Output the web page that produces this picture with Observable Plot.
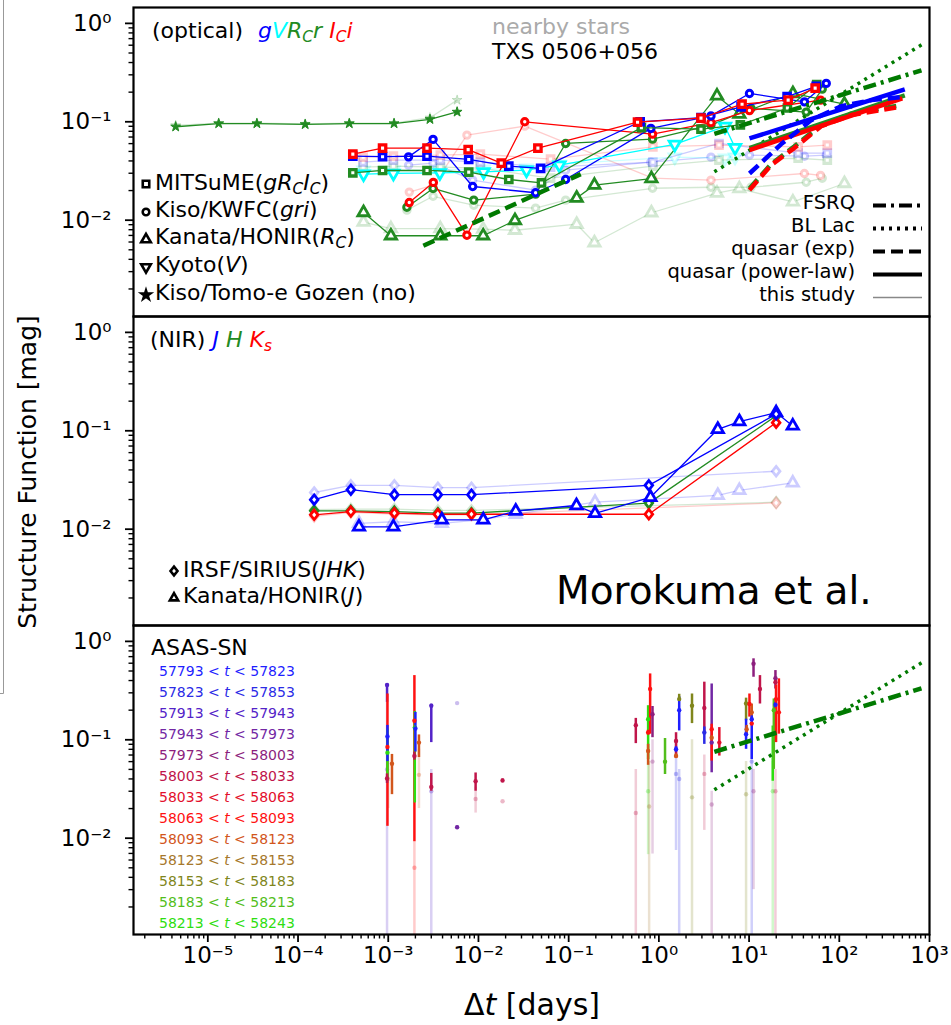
<!DOCTYPE html>
<html><head><meta charset="utf-8">
<script src="https://cdn.jsdelivr.net/npm/d3@7"></script>
<script src="https://cdn.jsdelivr.net/npm/@observablehq/plot@0.6"></script>
<style>
html,body{margin:0;padding:0;background:#fff;}
#wrap{position:relative;width:951px;height:1025px;overflow:hidden;font-family:"DejaVu Sans",sans-serif;color:#000;}
.lbl{position:absolute;white-space:nowrap;z-index:5;}
.sub{font-size:0.7em;position:relative;top:0.28em;}
svg.leg{position:absolute;left:0;top:0;z-index:4;}
</style></head><body><div id="wrap"></div>
<script>
// ---------- tick values ----------
const xMajorTicks = [1e-5, 1e-4, 1e-3, 1e-2, 1e-1, 1, 10, 100, 1000];
const yMajorTicks = [1e-2, 1e-1, 1];

// ---------- optical panel: TXS 0506+056 (this study) ----------
const mitsumeG_dt = [4.05e-4, 8.65e-4, 2.69e-3, 7.8e-3, 0.0217, 0.0489, 0.62, 2.93, 8.15, 26.4, 55.5];
const mitsumeG_sf = [0.0447, 0.0442, 0.0447, 0.0414, 0.0354, 0.0336, 0.100, 0.110, 0.142, 0.180, 0.229];
const mitsumeR_dt = [4.05e-4, 8.65e-4, 2.69e-3, 7.8e-3, 0.0217, 0.050, 0.64, 2.93, 8.0, 26.6, 56.2];
const mitsumeR_sf = [0.0303, 0.0320, 0.0320, 0.0308, 0.0259, 0.0239, 0.0872, 0.0841, 0.0931, 0.138, 0.239];
const mitsumeI_dt = [4.05e-4, 8.65e-4, 2.69e-3, 7.69e-3, 0.0179, 0.0456, 0.58, 2.93, 8.36, 27.1, 54];
const mitsumeI_sf = [0.0469, 0.0540, 0.0540, 0.0521, 0.0380, 0.0540, 0.099, 0.109, 0.151, 0.166, 0.220];
const kyotoV_dt = [5.32e-4, 1.14e-3, 3.73e-3, 0.0114, 0.0341, 0.079, 1.50, 5.41, 6.99];
const kyotoV_sf = [0.0294, 0.0299, 0.0303, 0.0310, 0.0322, 0.0362, 0.059, 0.0897, 0.0546];
const kwfcG_dt = [1.68e-3, 3.14e-3, 8.63e-3, 0.043, 0.0926, 0.815, 3.78, 10.1, 41.1, 71.7];
const kwfcG_sf = [0.0440, 0.0662, 0.0220, 0.0190, 0.0259, 0.0856, 0.1147, 0.194, 0.1595, 0.2455];
const kwfcR_dt = [1.61e-3, 3.14e-3, 8.87e-3, 0.043, 0.0926, 0.851, 3.78, 10.5, 43, 64.7];
const kwfcR_sf = [0.01355, 0.0210, 0.0160, 0.0184, 0.0602, 0.0666, 0.0925, 0.1367, 0.1254, 0.215];
const kwfcI_dt = [1.71e-3, 3.16e-3, 7.45e-3, 0.0326, 0.851, 3.78, 10.1, 62];
const kwfcI_sf = [0.0151, 0.0242, 0.00704, 0.100, 0.0749, 0.098, 0.130, 0.166];
const kanataR_dt = [5.32e-4, 1.07e-3, 3.78e-3, 0.01128, 0.0254, 0.1227, 0.193, 0.826, 4.41, 7.8, 30.6, 114];
const kanataR_sf = [0.01198, 0.00695, 0.00695, 0.00695, 0.00993, 0.0168, 0.0227, 0.0265, 0.183, 0.1197, 0.194, 0.151];
const tomoe_dt = [4.4e-6, 1.32e-5, 3.5e-5, 1.2e-4, 3.7e-4, 1.16e-3, 2.9e-3, 5.8e-3];
const tomoe_sf = [0.089, 0.096, 0.096, 0.094, 0.096, 0.096, 0.106, 0.126];

// ---------- optical panel: nearby stars ----------
const nbMitsume_dt = [5.27e-4, 1.14e-3, 3.78e-3, 0.0105, 0.063, 0.858, 4.64, 35, 73.6];
const nbMitsumeG_sf = [0.0389, 0.0407, 0.0407, 0.0389, 0.0346, 0.0389, 0.0602, 0.048, 0.048];
const nbMitsumeR_sf = [0.0346, 0.0354, 0.0346, 0.0338, 0.0268, 0.0354, 0.0407, 0.0426, 0.0407];
const nbMitsumeI_sf = [0.0437, 0.0447, 0.0458, 0.0469, 0.0417, 0.0557, 0.058, 0.0557, 0.058];
const nbKyotoV_sf = [0.0322, 0.0322, 0.0322, 0.0330, 0.0337, 0.0371, 0.0437, 0.0427, 0.0437];
const nbKwfcG_sf = [0.0362, 0.0380, 0.0255, 0.0202, 0.0322, 0.0389, 0.0437, 0.0458, 0.0447, 0.0458];
const nbKwfcR_sf = [0.01264, 0.0175, 0.0142, 0.01324, 0.0160, 0.0211, 0.0216, 0.0216, 0.0243, 0.0267];
const nbKwfcI_dt = [1.71e-3, 3.16e-3, 7.45e-3, 0.0326, 0.851, 3.78, 41, 62];
const nbKwfcI_sf = [0.0193, 0.0227, 0.0731, 0.0903, 0.0267, 0.0255, 0.0298, 0.0285];
const nbKanataR_sf = [0.00954, 0.0082, 0.0082, 0.0081, 0.0079, 0.0091, 0.0059, 0.0119, 0.0188, 0.0209, 0.01535, 0.0236];
const nbTomoe_sf = [0.092, 0.097, 0.097, 0.095, 0.097, 0.097, 0.110, 0.166];

// ---------- model lines ----------
const fsrq_dt = [4.12, 815],  fsrq_sf = [0.0755, 0.333];
const bllac_dt = [4.12, 815], bllac_sf = [0.031, 0.605];
const expShort_dt = [2.45e-3, 0.136], expShort_sf = [0.0055, 0.0294];
const plG_dt = [10.1, 532], plG_sf = [0.0677, 0.213];
const plR_dt = [10.1, 532], plR_sf = [0.054, 0.185];
const plI_dt = [10.1, 500], plI_sf = [0.0515, 0.1727];
const expG_dt = [10.1, 22.7, 48.9, 105, 227, 489], expG_sf = [0.0298, 0.0593, 0.104, 0.144, 0.166, 0.178];
const expR_dt = [10.1, 17.5, 31.6, 63, 136, 489], expR_sf = [0.021, 0.037, 0.056, 0.093, 0.121, 0.148];
const expI_dt = [10.1, 17.5, 31.6, 63, 136, 453], expI_sf = [0.0202, 0.0362, 0.054, 0.0903, 0.117, 0.141];

// ---------- NIR panel ----------
const irsf_dt = [1.51e-4, 3.85e-4, 1.17e-3, 3.55e-3, 8.36e-3, 0.774, 19.95];
const irsfJ_sf = [0.01995, 0.0252, 0.0224, 0.0224, 0.0224, 0.0279, 0.1475];
const irsfH_sf = [0.01538, 0.01538, 0.0151, 0.01455, 0.01455, 0.0184, 0.1417];
const irsfK_sf = [0.0140, 0.0151, 0.01455, 0.01419, 0.01419, 0.01419, 0.121];
const honirJ_dt = [4.74e-4, 1.14e-3, 3.93e-3, 0.0113, 0.0259, 0.122, 0.196, 0.807, 4.5, 7.8, 19.95, 30.5];
const honirJ_sf = [0.01055, 0.01055, 0.01245, 0.01245, 0.0153, 0.0174, 0.01445, 0.0211, 0.1035, 0.124, 0.153, 0.112];
const nbIrsf_dt = [1.51e-4, 3.85e-4, 1.17e-3, 3.55e-3, 8.36e-3, 19.95];
const nbIrsfJ_sf = [0.0236, 0.0279, 0.0279, 0.0264, 0.0264, 0.0388];
const nbIrsfH_sf = [0.0158, 0.0160, 0.0160, 0.0155, 0.0155, 0.0188];
const nbIrsfK_sf = [0.0135, 0.0148, 0.0142, 0.0140, 0.0140, 0.0185];
const nbHonirJ_dt = [4.74e-4, 1.14e-3, 3.93e-3, 0.0113, 0.0259, 0.196, 4.5, 7.8, 30.5];
const nbHonirJ_sf = [0.01148, 0.0119, 0.01148, 0.0125, 0.01419, 0.01884, 0.0221, 0.0248, 0.0295];

// ---------- ASAS-SN panel ----------
const asasBinLabels = ["57793","57823","57913","57943","57973","58003","58033","58063","58093","58123","58153","58183","58213"];
const asasBinEnds   = ["57823","57853","57943","57973","58003","58033","58063","58093","58123","58153","58183","58213","58243"];
const asasColors = ["#1f1fff","#2b2be6","#5323c8","#7227a4","#8d1f7e","#c0154a","#e3102c","#ff1212","#d2561c","#a6782c","#80861c","#52be1c","#2ede10"];
const asasDt  = [9.7e-4,9.8e-4,9.8e-4,9.8e-4,9.7e-4,1.1e-3,1.95e-3,1.97e-3,2.0e-3,1.95e-3,2.19e-3,3.0e-3,3.0e-3,5.8e-3,9.3e-3,0.0185,0.555,0.76,0.76,0.76,0.8,0.85,1.17,1.55,1.55,1.55,1.68,1.68,2.33,3.19,3.19,3.85,3.85,3.85,4.68,9.26,9.26,9.4,10.1,10.7,10.7,10.7,11.2,13.2,18.3,18.8,19.6,19.6,19.6,19.9,21.4];
const asasSF  = [0.36,0.0844,0.074,0.108,0.0404,0.057,0.156,0.133,0.13,0.0683,0.0936,0.222,0.0332,0.0129,0.0379,0.0385,0.1406,0.162,0.1185,0.0768,0.328,0.182,0.0598,0.0972,0.08,0.0683,0.2,0.259,0.222,0.21,0.1185,0.0936,0.128,0.105,0.0936,0.234,0.114,0.128,0.231,0.19,0.162,0.146,0.592,0.328,0.114,0.20,0.422,0.385,0.227,0.259,0.19];
const asasLo  = [0.24,0.0132,0.041,0.06,0.036,0.0277,0.0092,0.0228,0.075,0.062,0.066,0.0936,0.030,0.0125,0.030,0.037,0.0914,0.063,0.112,0.055,0.114,0.105,0.0444,0.068,0.075,0.065,0.123,0.245,0.146,0.1185,0.0898,0.0462,0.0607,0.10,0.0683,0.156,0.08,0.11,0.17,0.156,0.063,0.14,0.432,0.231,0.0379,0.05,0.328,0.37,0.21,0.0936,0.114];
const asasHi  = [0.37,0.292,0.128,0.14,0.045,0.071,0.449,0.194,0.19,0.075,0.112,0.23,0.0455,0.0133,0.046,0.040,0.165,0.222,0.125,0.09,0.467,0.218,0.103,0.118,0.085,0.072,0.274,0.29,0.292,0.385,0.135,0.369,0.144,0.11,0.133,0.265,0.162,0.14,0.292,0.231,0.175,0.15,0.665,0.449,0.138,0.26,0.505,0.40,0.24,0.36,0.416];
const asasBin = [2,7,12,0,5,8,7,12,0,5,8,2,5,3,5,5,5,12,7,8,7,4,11,5,0,8,0,10,10,5,1,3,7,8,6,10,0,8,7,8,0,7,4,5,12,11,4,5,0,7,7];
const nbAsasDt  = [9.7e-4,1.0e-3,1.95e-3,2.19e-3,3.0e-3,5.8e-3,9.3e-3,0.0185,0.555,0.76,0.78,0.85,1.55,1.68,2.33,3.19,3.85,9.26,10.7,11.2,19.6,18.3];
const nbAsasSF  = [0.05,0.04,0.005,0.044,0.03,0.236,0.025,0.0237,0.018,0.03,0.021,0.06,0.045,0.04,0.026,0.045,0.022,0.028,0.06,0.03,0.03,0.03];
const nbAsasLo  = [1e-4,0.02,1e-4,0.02,1e-4,0.236,0.018,0.0237,1e-4,0.0068,1e-4,0.0069,0.0075,1e-4,1e-4,0.012,1e-4,1e-4,1e-4,0.003,1e-4,1e-4];
const nbAsasHi  = [0.24,0.06,0.0092,0.08,0.05,0.236,0.033,0.0237,0.05,0.09,0.06,0.1,0.1,0.05,0.1,0.07,0.03,0.06,0.1,0.05,0.05,0.06];
const nbAsasBin = [2,9,7,8,2,2,5,5,5,12,9,4,1,1,10,5,4,10,1,4,5,12];

// ---------- colours ----------
const cG = "#0000ff", cV = "#00ffff", cR = "#228b22", cI = "#ff0000", cModel = "#007a00";

// ---------- helpers ----------
const wrap = document.getElementById("wrap");
const W = 951, ML = 133, MR = 22;
const xDomain = [1.5e-6, 1000], yDomain = [1.05e-3, 1.45];
const supMap = {"-":"⁻","0":"⁰","1":"¹","2":"²","3":"³","4":"⁴","5":"⁵","6":"⁶","7":"⁷","8":"⁸","9":"⁹"};
const fmt = v => "10" + String(Math.round(Math.log10(v))).replace(/./g, c => supMap[c]);
const xMinorTicks = [], yMinorTicks = [];
for (let e = -6; e <= 2; e++) for (let m = 2; m <= 9; m++) { const v = m * Math.pow(10, e); if (v > xDomain[0] && v < xDomain[1]) xMinorTicks.push(v); }
for (let e = -3; e <= 0; e++) for (let m = 2; m <= 9; m++) { const v = m * Math.pow(10, e); if (v > yDomain[0] && v < yDomain[1]) yMinorTicks.push(v); }

const triDown = {draw(ctx, size){ const y = Math.sqrt(size / (Math.sqrt(3) * 3)); ctx.moveTo(0, 2*y); ctx.lineTo(-Math.sqrt(3)*y, -y); ctx.lineTo(Math.sqrt(3)*y, -y); ctx.closePath(); }};
const diamondSym = {draw(ctx, size){ const h = Math.sqrt(size) * 0.75, w = h * 0.8; ctx.moveTo(0, -h); ctx.lineTo(w, 0); ctx.lineTo(0, h); ctx.lineTo(-w, 0); ctx.closePath(); }};

const rows = (dt, sf) => dt.map((d, i) => ({dt: d, sf: sf[i]}));
function series(dt, sf, o) {
  const data = rows(dt, sf), op = o.opacity ?? 1;
  return [
    Plot.line(data, {x: "dt", y: "sf", stroke: o.color, strokeWidth: o.lw ?? 1.3, strokeOpacity: op}),
    Plot.dot(data, {x: "dt", y: "sf", symbol: o.symbol, r: o.r ?? 3.6, stroke: o.color, strokeWidth: o.sw ?? 3.3,
      fill: o.fill ?? "white", strokeOpacity: op, fillOpacity: (o.fill && o.fill !== "white") ? op : 1})
  ];
}
function model(dt, sf, color, dash, w = 4.5) {
  return Plot.line(rows(dt, sf), {x: "dt", y: "sf", stroke: color, strokeWidth: w, strokeDasharray: dash, strokeLinecap: "butt"});
}
const yAxes = () => [
  Plot.axisY(yMinorTicks, {anchor: "left", tickSize: 4.5, tickFormat: () => "", strokeWidth: 1.4, label: null}),
  Plot.axisY(yMajorTicks, {anchor: "left", tickSize: 8, tickPadding: 14, tickFormat: fmt, fontSize: 23, strokeWidth: 1.8, label: null})
];
function panel(top, height, mt, mb, marks, withX) {
  const p = Plot.plot({
    width: W, height, marginTop: mt, marginBottom: mb, marginLeft: ML, marginRight: MR,
    x: withX ? {type: "log", domain: xDomain, label: null} : {type: "log", domain: xDomain, label: null, axis: null},
    y: {type: "log", domain: yDomain, label: null},
    color: {type: "identity"},
    style: {fontFamily: "DejaVu Sans", fontSize: "23px", background: "transparent", overflow: "visible", color: "#000"},
    marks
  });
  p.style.position = "absolute"; p.style.left = "0px"; p.style.top = top + "px";
  wrap.appendChild(p);
}

// ---------- panel 1: optical ----------
const faded = 0.2;
const triOpt = {r: 4.2, sw: 2.8}, circOpt = {r: 3.2, sw: 3.0}, sqOpt = {r: 3.6, sw: 3.3}, starOpt = {r: 3.1, sw: 1};
panel(0, 317, 7, 1, [
  ...series(kanataR_dt, nbKanataR_sf, {color: cR, symbol: "triangle", ...triOpt, opacity: faded}),
  ...series(kwfcR_dt, nbKwfcR_sf, {color: cR, symbol: "circle", ...circOpt, opacity: faded}),
  ...series(nbKwfcI_dt, nbKwfcI_sf, {color: cI, symbol: "circle", ...circOpt, opacity: faded}),
  ...series(kwfcG_dt, nbKwfcG_sf, {color: cG, symbol: "circle", ...circOpt, opacity: faded}),
  ...series(kyotoV_dt, nbKyotoV_sf, {color: cV, symbol: triDown, ...triOpt, opacity: faded}),
  ...series(nbMitsume_dt, nbMitsumeR_sf, {color: cR, symbol: "square", ...sqOpt, opacity: faded}),
  ...series(nbMitsume_dt, nbMitsumeG_sf, {color: cG, symbol: "square", ...sqOpt, opacity: faded}),
  ...series(nbMitsume_dt, nbMitsumeI_sf, {color: cI, symbol: "square", ...sqOpt, opacity: faded}),
  ...series(tomoe_dt, nbTomoe_sf, {color: cR, symbol: "star", ...starOpt, fill: cR, opacity: faded}),
  ...series(tomoe_dt, tomoe_sf, {color: cR, symbol: "star", ...starOpt, fill: cR}),
  ...series(kanataR_dt, kanataR_sf, {color: cR, symbol: "triangle", ...triOpt}),
  ...series(kwfcR_dt, kwfcR_sf, {color: cR, symbol: "circle", ...circOpt}),
  ...series(kwfcI_dt, kwfcI_sf, {color: cI, symbol: "circle", ...circOpt}),
  ...series(kwfcG_dt, kwfcG_sf, {color: cG, symbol: "circle", ...circOpt}),
  ...series(kyotoV_dt, kyotoV_sf, {color: cV, symbol: triDown, ...triOpt}),
  ...series(mitsumeR_dt, mitsumeR_sf, {color: cR, symbol: "square", ...sqOpt}),
  ...series(mitsumeG_dt, mitsumeG_sf, {color: cG, symbol: "square", ...sqOpt}),
  ...series(mitsumeI_dt, mitsumeI_sf, {color: cI, symbol: "square", ...sqOpt}),
  model(expShort_dt, expShort_sf, cModel, "12,6"),
  model(bllac_dt, bllac_sf, cModel, "3,5", 3.5),
  model(fsrq_dt, fsrq_sf, cModel, "13,5,3,5"),
  model(expR_dt, expR_sf, cR, "12,6"),
  model(plR_dt, plR_sf, cR, null),
  model(expI_dt, expI_sf, cI, "12,6"),
  model(plI_dt, plI_sf, cI, null),
  model(expG_dt, expG_sf, cG, "12,6"),
  model(plG_dt, plG_sf, cG, null),
  ...yAxes(),
  Plot.frame({stroke: "black", strokeWidth: 2.2})
]);

// ---------- panel 2: NIR ----------
const diaOpt = {r: 3.6, sw: 2.8}, triNir = {r: 4.2, sw: 2.8};
panel(314, 313, 2, 2, [
  ...series(nbHonirJ_dt, nbHonirJ_sf, {color: cG, symbol: "triangle", ...triNir, opacity: faded}),
  ...series(nbIrsf_dt, nbIrsfH_sf, {color: cR, symbol: diamondSym, ...diaOpt, opacity: faded}),
  ...series(nbIrsf_dt, nbIrsfK_sf, {color: cI, symbol: diamondSym, ...diaOpt, opacity: faded}),
  ...series(nbIrsf_dt, nbIrsfJ_sf, {color: cG, symbol: diamondSym, ...diaOpt, opacity: faded}),
  ...series(irsf_dt, irsfH_sf, {color: cR, symbol: diamondSym, ...diaOpt}),
  ...series(irsf_dt, irsfK_sf, {color: cI, symbol: diamondSym, ...diaOpt}),
  ...series(honirJ_dt, honirJ_sf, {color: cG, symbol: "triangle", ...triNir}),
  ...series(irsf_dt, irsfJ_sf, {color: cG, symbol: diamondSym, ...diaOpt}),
  ...yAxes(),
  Plot.frame({stroke: "black", strokeWidth: 2.2})
]);

// ---------- panel 3: ASAS-SN ----------
const asas = asasDt.map((d, i) => ({dt: d, sf: asasSF[i], lo: asasLo[i], hi: asasHi[i], c: asasColors[asasBin[i]]}));
const nbAsas = nbAsasDt.map((d, i) => ({dt: d, sf: nbAsasSF[i], lo: nbAsasLo[i], hi: nbAsasHi[i], c: asasColors[nbAsasBin[i]]}));
panel(623, 402, 2, 91, [
  Plot.ruleX(nbAsas, {x: "dt", y1: "lo", y2: "hi", stroke: "c", strokeWidth: 2.5, strokeOpacity: 0.22, clip: true}),
  Plot.dot(nbAsas, {x: "dt", y: "sf", r: 2.2, fill: "c", fillOpacity: 0.3, clip: true}),
  Plot.ruleX(asas, {x: "dt", y1: "lo", y2: "hi", stroke: "c", strokeWidth: 2.5, clip: true}),
  Plot.dot(asas, {x: "dt", y: "sf", r: 2.2, fill: "c", clip: true}),
  model(bllac_dt, bllac_sf, cModel, "3,5", 3.5),
  model(fsrq_dt, fsrq_sf, cModel, "13,5,3,5"),
  ...yAxes(),
  Plot.axisX(xMinorTicks, {anchor: "bottom", tickSize: 4.5, tickFormat: () => "", strokeWidth: 1.4, label: null}),
  Plot.axisX(xMajorTicks, {anchor: "bottom", tickSize: 8, tickPadding: 4, tickFormat: fmt, fontSize: 23, strokeWidth: 1.8, label: null}),
  Plot.frame({stroke: "black", strokeWidth: 2.2})
], true);

// ---------- annotations ----------
function label(html, o) {
  const d = document.createElement("div"); d.className = "lbl"; d.innerHTML = html;
  const size = o.size || 22; d.style.fontSize = size + "px"; d.style.lineHeight = (0.9 * size) + "px";
  d.style.top = (o.cy - 0.47 * size) + "px";
  if (o.right != null) { d.style.right = (W - o.right) + "px"; d.style.textAlign = "right"; } else d.style.left = o.left + "px";
  if (o.color) d.style.color = o.color;
  wrap.appendChild(d); return d;
}
const it = (t, c) => `<i style="color:${c}">${t}</i>`;
const sub = t => `<span class="sub">${t}</span>`;

label("(optical)", {left: 152, cy: 31});
label(it("g", cG) + it("V", cV) + it("R" + sub("C") + "r", cR) + " " + it("I" + sub("C") + "i", cI), {left: 258, cy: 31});
label("nearby stars", {left: 492, cy: 27, color: "#aaaaaa"});
label("TXS 0506+056", {left: 492, cy: 52});

const optLegend = ["MITSuME(<i>gR" + sub("C") + "I" + sub("C") + "</i>)", "Kiso/KWFC(<i>gri</i>)", "Kanata/HONIR(<i>R" + sub("C") + "</i>)", "Kyoto(<i>V</i>)", "Kiso/Tomo-e Gozen (no)"];
const optLegendY = [183, 210, 237.5, 265, 293];
optLegend.forEach((t, i) => label(t, {left: 155, cy: optLegendY[i]}));

const modelLegend = ["FSRQ", "BL Lac", "quasar (exp)", "quasar (power-law)", "this study"];
const modelLegendY = [203.5, 226.5, 249.5, 272.5, 295.5];
modelLegend.forEach((t, i) => label(t, {right: 855, cy: modelLegendY[i], size: 19.5}));

label("(NIR) " + it("J", cG) + " " + it("H", cR) + " " + it("K" + sub("s"), cI), {left: 150, cy: 340});
label("IRSF/SIRIUS(<i>JHK</i>)", {left: 183, cy: 570});
label("Kanata/HONIR(<i>J</i>)", {left: 183, cy: 596});
label("Morokuma et al.", {left: 556, cy: 591, size: 39});

label("ASAS-SN", {left: 151, cy: 648});
asasBinLabels.forEach((b, i) => label(`${b} &lt; <i>t</i> &lt; ${asasBinEnds[i]}`, {left: 159, cy: 672 + i * 20.97, size: 14, color: asasColors[i]}));

// axis titles
const yt = label("Structure Function [mag]", {left: 28, cy: 472, size: 25});
yt.style.left = "28px"; yt.style.top = "472px"; yt.style.transform = "translate(-50%,-50%) rotate(-90deg)";
const xt = label("Δ<i>t</i> [days]", {left: 532, cy: 1004, size: 30});
xt.style.left = "532px"; xt.style.top = "1004px"; xt.style.transform = "translate(-50%,-50%)";

// legend graphics
const leg = d3.create("svg").attr("class", "leg").attr("width", W).attr("height", 1025);
function legSym(sym, cx, cy, size, filled) {
  leg.append("path").attr("d", d3.symbol(sym, size)()).attr("transform", `translate(${cx},${cy})`)
    .attr("fill", filled ? "black" : "white").attr("stroke", "black").attr("stroke-width", 2.6);
}
legSym(d3.symbolSquare, 146, optLegendY[0] + 1, 42);
legSym(d3.symbolCircle, 146, optLegendY[1] + 2, 34);
legSym(d3.symbolTriangle, 146, optLegendY[2] + 2, 40);
legSym(triDown, 146, optLegendY[3] + 2, 40);
legSym(d3.symbolStar, 146, optLegendY[4] + 2, 22, true);
legSym(diamondSym, 174, 571, 34);
legSym(d3.symbolTriangle, 174, 598, 30);
const dashes = ["13,5,3,5", "3,5", "12,6", null, null];
modelLegendY.forEach((y, i) => {
  const l = leg.append("line").attr("x1", 873).attr("x2", 922).attr("y1", y + 2).attr("y2", y + 2)
    .attr("stroke", i === 4 ? "#888" : "black").attr("stroke-width", i === 4 ? 1.5 : 4.2);
  if (dashes[i]) l.attr("stroke-dasharray", dashes[i]);
});
// thin page-border artefact at far left
leg.append("path").attr("d", "M3.5,0V693.5H0").attr("fill", "none").attr("stroke", "#999").attr("stroke-width", 1);
wrap.appendChild(leg.node());
</script></body></html>
